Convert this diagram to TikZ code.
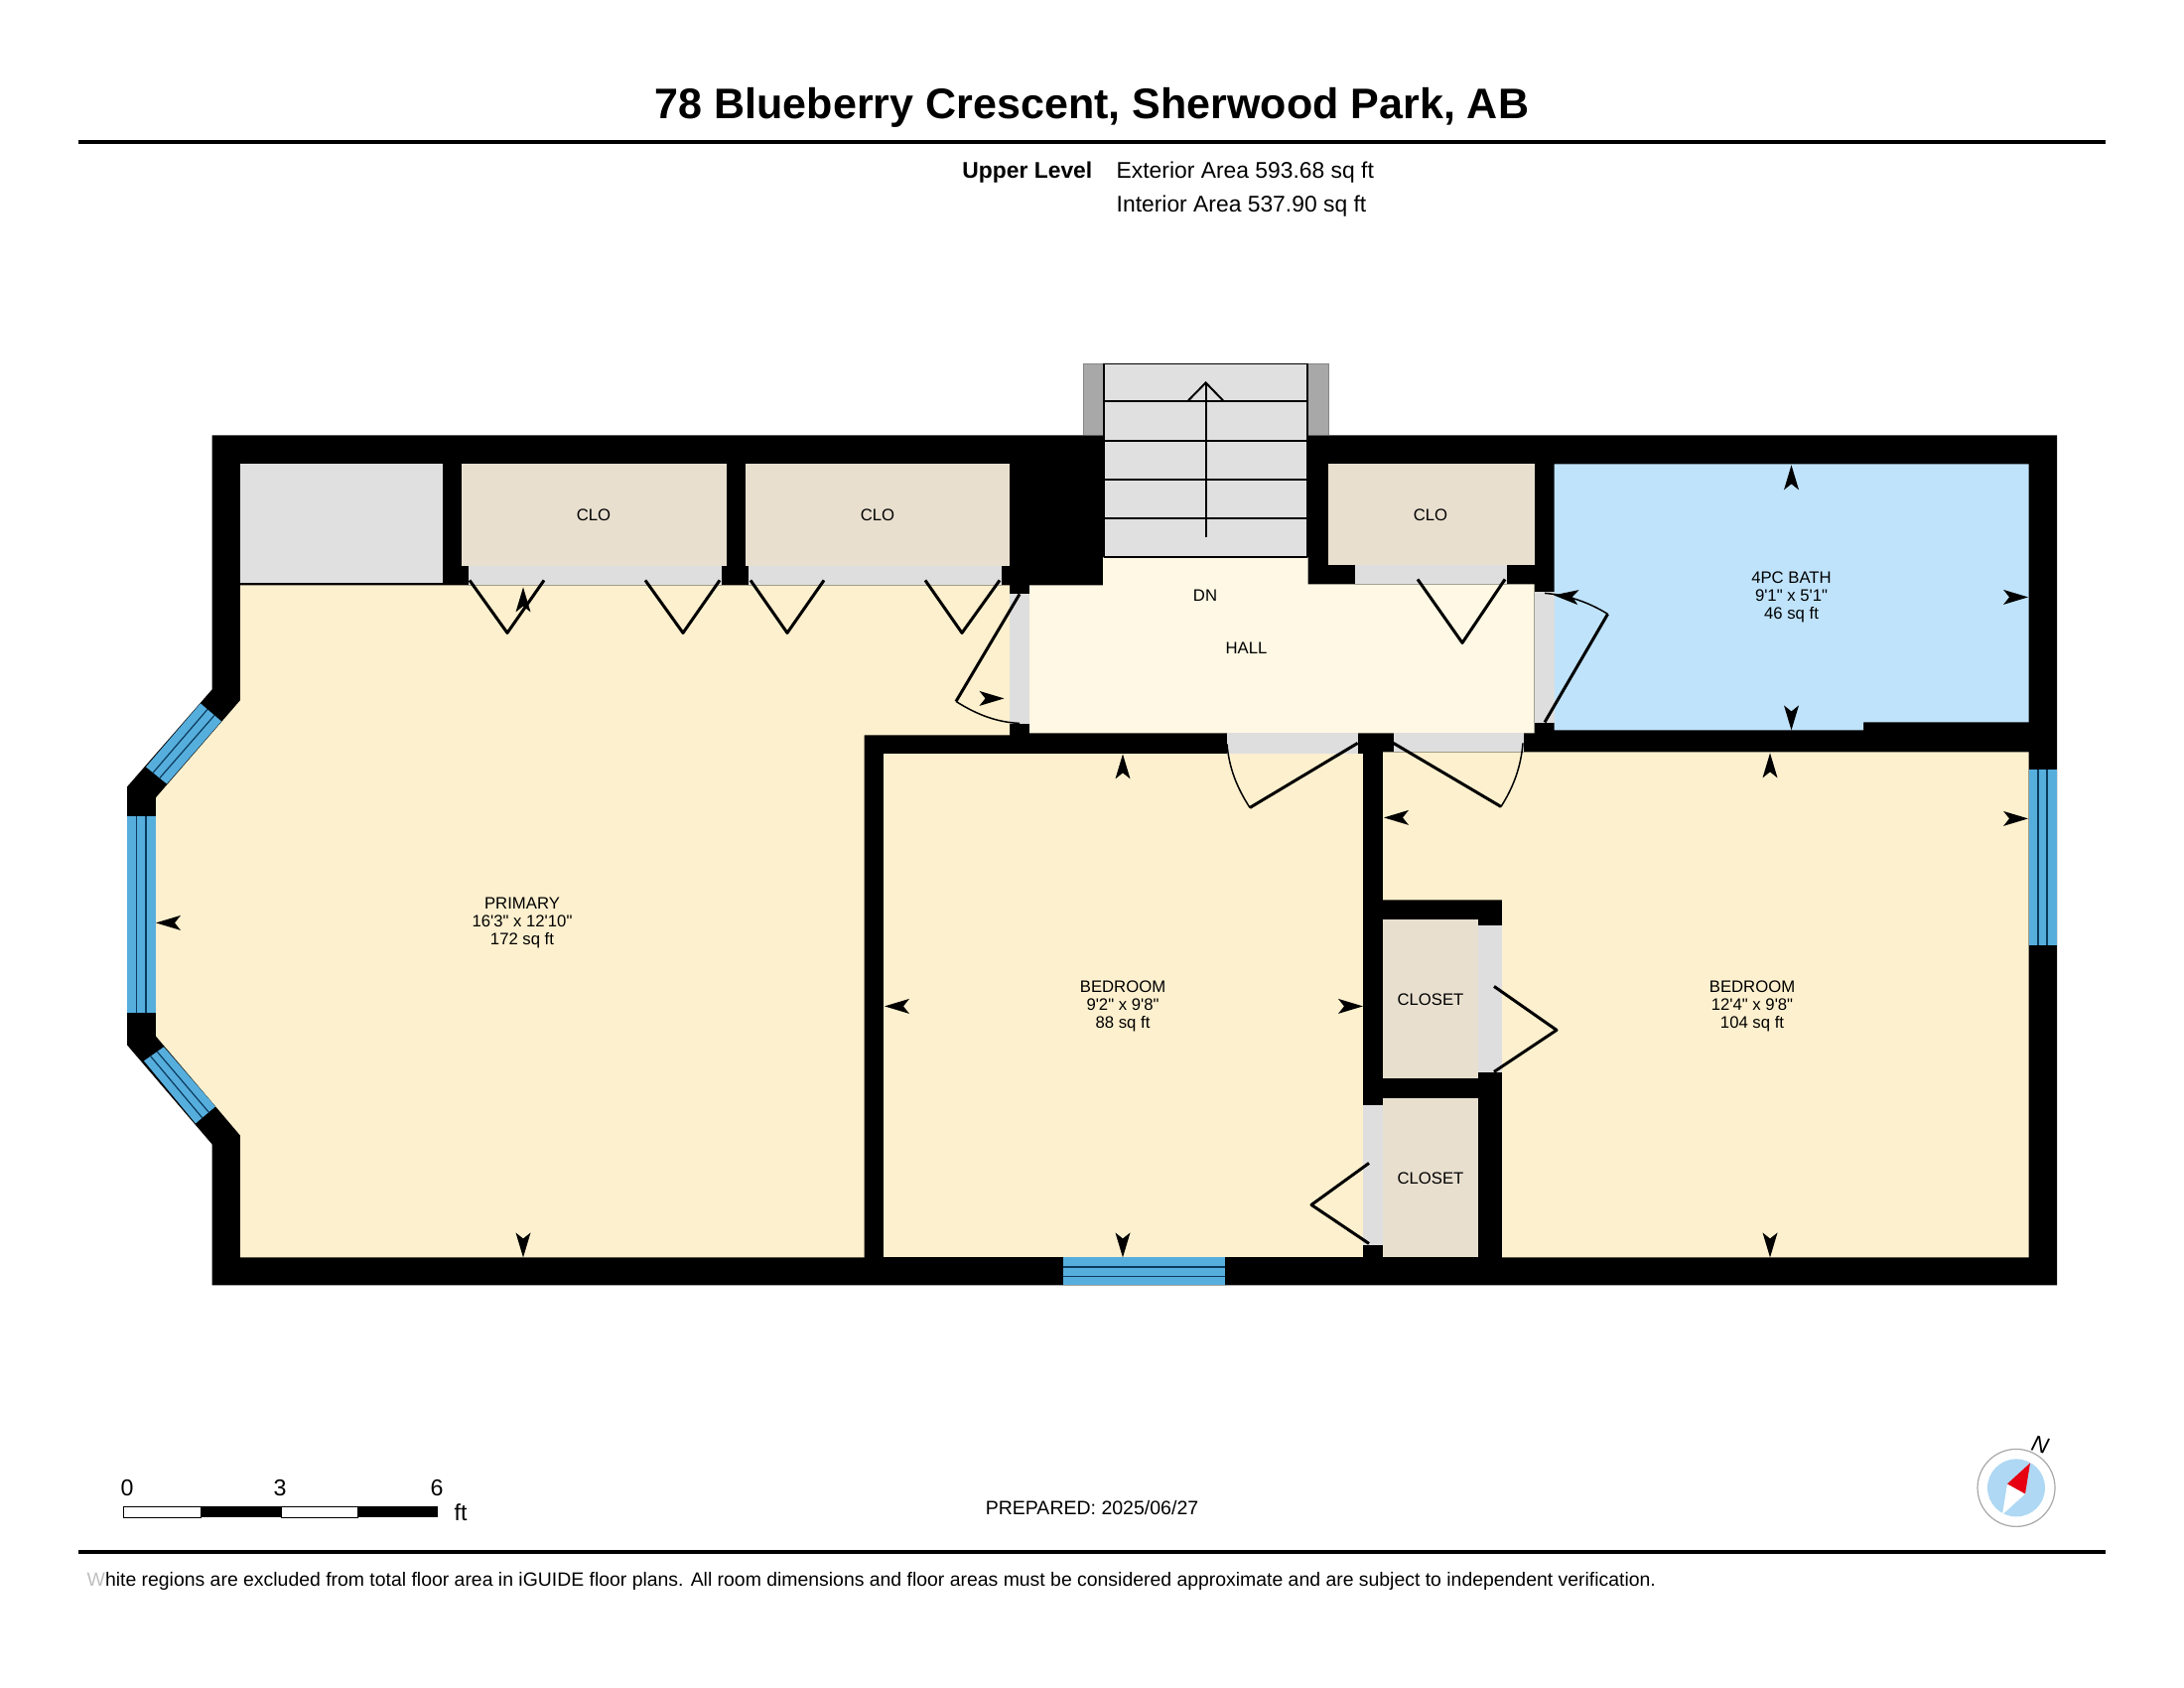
\documentclass[tikz,border=0pt]{standalone}
\usepackage{fontspec}
\setmainfont{Liberation Sans}[Ligatures=TeXOff]
\definecolor{roomcream}{HTML}{FDF0CE}
\definecolor{hallcream}{HTML}{FEF8E4}
\definecolor{closettan}{HTML}{E8DFCF}
\definecolor{bathblue}{HTML}{BFE3FB}
\definecolor{windowblue}{HTML}{56AEDD}
\definecolor{windowline}{HTML}{0B3A5C}
\definecolor{doorgray}{HTML}{DEDEDF}
\definecolor{storegray}{HTML}{E0E0E0}
\definecolor{sidegray}{HTML}{A8A8A8}
\definecolor{compassblue}{HTML}{AED8F4}
\definecolor{needlered}{HTML}{E60012}

\begin{document}
\begin{tikzpicture}[x=0.01cm,y=-0.01cm,
    room/.style={fill=roomcream},
    hall/.style={fill=hallcream},
    closet/.style={fill=closettan},
    bath/.style={fill=bathblue},
    doorway/.style={fill=doorgray},
    window/.style={fill=windowblue},
    windowbar/.style={draw=windowline,line width=0.012cm},
    leaf/.style={draw=black,line width=0.03cm,line join=round},
    swing/.style={draw=black,line width=0.015cm},
    tread/.style={draw=black,line width=0.02cm},
    roomtext/.style={align=center,inner sep=0pt,font=\fontsize{4.75}{5.12}\selectfont},
    infotext/.style={inner sep=0pt,font=\fontsize{6.5}{7}\selectfont},
    scaletext/.style={inner sep=0pt,font=\fontsize{6.6}{7}\selectfont},
    dimarrow/.pic={\fill[black] (0,0) -- (-25,-7.5) -- (-19,0) -- (-25,7.5) -- cycle;}]
    \useasboundingbox (0,-1.4) rectangle (2200,1698.6);
    % building outline
    \fill[black] (213.6,437) -- (2072,437) -- (2072,1293) -- (213.6,1293) -- (213.6,1151)
        -- (128,1051) -- (128,791) -- (213.6,693) -- cycle;
    % rooms
    \fill[room] (242,588) -- (1017,588) -- (1017,739) -- (870.5,739) -- (870.5,1265) -- (242,1265)
        -- (242,1142) -- (157,1042) -- (157,802) -- (242,704) -- cycle;
    \fill[room] (890,758) rectangle (1373,1265);
    \fill[room] (1393,756) -- (2043.5,756) -- (2043.5,1265) -- (1513,1265) -- (1513,905) -- (1393,905) -- cycle;
    \fill[hall] (1037,588) -- (1111,588) -- (1111,560) -- (1317.5,560) -- (1317.5,587) -- (1545.6,587)
        -- (1545.6,737) -- (1037,737) -- cycle;
    \fill[bath] (1565.5,466) -- (2043.5,466) -- (2043.5,726) -- (1877,726) -- (1877,734) -- (1565.5,734) -- cycle;
    \fill[storegray] (242,466) rectangle (446,586);
    \fill[closet] (465,466) rectangle (732,569);
    \fill[closet] (751,466) rectangle (1017,569);
    \fill[closet] (1338,466) rectangle (1545.6,568);
    \fill[closet] (1393,925) rectangle (1489,1085);
    \fill[closet] (1393,1105) rectangle (1489,1265);
    % door openings
    \fill[doorway] (472,569) rectangle (727,588);
    \fill[doorway] (754,569) rectangle (1009,588);
    \fill[doorway] (1017,597) rectangle (1037,728);
    \fill[doorway] (1364.6,568) rectangle (1518,587);
    \fill[doorway] (1545.6,595) rectangle (1565.5,727);
    \fill[doorway] (1236,737) rectangle (1367.6,758);
    \fill[doorway] (1403.6,737) rectangle (1535,756);
    \fill[doorway] (1489,931) rectangle (1513,1079);
    \fill[doorway] (1373,1112) rectangle (1393,1253);
    % stairs
    \fill[sidegray] (1091,365) rectangle (1112,437);
    \fill[sidegray] (1317,365) rectangle (1338,437);
    \fill[storegray] (1112,365) rectangle (1317,560);
    \draw[sidegray!80!black,line width=0.01cm] (1091,437) -- (1091,365) -- (1338,365) -- (1338,437);
    \draw[swing] (1112,365) -- (1317,365);
    \draw[tread] (1112,365) -- (1112,560);
    \draw[tread] (1317,365) -- (1317,560);
    \draw[tread] (1112,403) -- (1317,403);
    \draw[tread] (1112,443) -- (1317,443);
    \draw[tread] (1112,482) -- (1317,482);
    \draw[tread] (1112,521) -- (1317,521);
    \draw[tread] (1112,560) -- (1317,560);
    \draw[tread] (1214.6,540) -- (1214.6,384);
    \draw[tread] (1197,402) -- (1214.6,384) -- (1232,402);
    % windows
    \fill[window] (128,821) rectangle (157,1019);
    \draw[windowbar] (137.5,821) -- (137.5,1019);
    \draw[windowbar] (147,821) -- (147,1019);
    \fill[window] (147,771) -- (202,707) -- (223,725) -- (168,788) -- cycle;
    \draw[windowbar] (154,777) -- (209,713);
    \draw[windowbar] (161,782) -- (216,719);
    \fill[window] (165,1053) -- (217,1113) -- (197,1130) -- (145,1067) -- cycle;
    \draw[windowbar] (158.3,1057.7) -- (210.3,1118.7);
    \draw[windowbar] (151.7,1062.3) -- (203.7,1124.3);
    \fill[window] (1071,1265) rectangle (1234,1293);
    \draw[windowbar] (1071,1274.5) -- (1234,1274.5);
    \draw[windowbar] (1071,1284) -- (1234,1284);
    \fill[window] (2043.5,774) rectangle (2072,951);
    \draw[windowbar] (2053,774) -- (2053,951);
    \draw[windowbar] (2062,774) -- (2062,951);
    % doors
    \draw[leaf] (473,583) -- (511,636) -- (548,583);
    \draw[leaf] (650,583) -- (688,636) -- (725,583);
    \draw[leaf] (756,583) -- (793,636) -- (830,583);
    \draw[leaf] (932,583) -- (969,636) -- (1007,583);
    \draw[leaf] (1428,582) -- (1473,646) -- (1516,582);
    \draw[leaf] (1505,992) -- (1568,1036) -- (1505,1078);
    \draw[leaf] (1379,1170) -- (1321,1212) -- (1379,1251);
    \draw[leaf] (1027,597) -- (963,705);
    \draw[swing] (963,705) .. controls (985,719) and (1005,726) .. (1027,727);
    \draw[leaf] (1367.6,747) -- (1259,812);
    \draw[swing] (1259,812) .. controls (1246,792) and (1238,772) .. (1236,748);
    \draw[leaf] (1403.6,747) -- (1512,811);
    \draw[swing] (1512,811) .. controls (1524,792) and (1532,772) .. (1534,747);
    \draw[leaf] (1556,726) -- (1619.5,617);
    \draw[swing] (1619.5,617) .. controls (1600,605) and (1580,598) .. (1556,596);
    % dimension arrows
    \pic[rotate=90] at (527,590) {dimarrow};
    \pic[rotate=180] at (157,928) {dimarrow};
    \pic[rotate=-90] at (527,1265) {dimarrow};
    \pic at (1011.5,702) {dimarrow};
    \pic[rotate=90] at (1131,758) {dimarrow};
    \pic[rotate=180] at (891,1012) {dimarrow};
    \pic at (1373,1012) {dimarrow};
    \pic[rotate=-90] at (1131,1265) {dimarrow};
    \pic[rotate=180] at (1394,822) {dimarrow};
    \pic[rotate=90] at (1783,757) {dimarrow};
    \pic at (2043,823) {dimarrow};
    \pic[rotate=-90] at (1783,1265) {dimarrow};
    \pic[rotate=90] at (1804.5,467) {dimarrow};
    \pic at (2043,600) {dimarrow};
    \pic[rotate=-90] at (1804.5,734) {dimarrow};
    \pic[rotate=175] at (1565,598) {dimarrow};
    % room labels
    \node[roomtext] (primary) at (526,928) {PRIMARY\\16'3" x 12'10"\\172 sq ft};
    \node[roomtext] (bedroomA) at (1131,1012) {BEDROOM\\9'2" x 9'8"\\88 sq ft};
    \node[roomtext] (bedroomB) at (1765,1012) {BEDROOM\\12'4" x 9'8"\\104 sq ft};
    \node[roomtext] (bath) at (1804.5,600) {4PC BATH\\9'1" x 5'1"\\46 sq ft};
    \node[roomtext] (hall) at (1255.5,651) {HALL};
    \node[roomtext] (down) at (1214,598) {DN};
    \node[roomtext] (cloA) at (598,517) {CLO};
    \node[roomtext] (cloB) at (884,517) {CLO};
    \node[roomtext] (cloC) at (1441,517) {CLO};
    \node[roomtext] (closetA) at (1441,1005) {CLOSET};
    \node[roomtext] (closetB) at (1441,1185) {CLOSET};
    % header
    \node[inner sep=0pt,font=\fontsize{12.24}{14}\selectfont\bfseries] (title) at (1100,106.6) {78 Blueberry Crescent, Sherwood Park, AB};
    \draw[line width=0.04cm] (79,141.5) -- (2121,141.5);
    \node[infotext,anchor=east,font=\fontsize{6.5}{7}\selectfont\bfseries] (level) at (1101,172) {Upper Level};
    \node[infotext,anchor=west] (exterior) at (1124,172) {Exterior Area 593.68 sq ft};
    \node[infotext,anchor=west] (interior) at (1124,206) {Interior Area 537.90 sq ft};
    % scale bar
    \draw[black,line width=0.01cm,fill=white] (124,1516) rectangle (202,1527);
    \fill[black] (202,1516) rectangle (283,1527);
    \draw[black,line width=0.01cm,fill=white] (283,1516) rectangle (360,1527);
    \fill[black] (360,1516) rectangle (441,1527);
    \node[scaletext] (zero) at (128,1497) {0};
    \node[scaletext] (three) at (282,1497) {3};
    \node[scaletext] (six) at (440,1497) {6};
    \node[scaletext] (feet) at (464,1522) {ft};
    \node[infotext,font=\fontsize{5.55}{7}\selectfont] (prepared) at (1100,1517) {PREPARED: 2025/06/27};
    % compass
    \draw[sidegray,line width=0.012cm,fill=white] (2031,1497) circle [radius=39];
    \fill[compassblue] (2031,1497) circle [radius=29];
    \fill[white] (2022,1493) -- (2040,1503) -- (2017,1524) -- cycle;
    \fill[needlered] (2045,1472) -- (2022,1493) -- (2040,1503) -- cycle;
    \node[inner sep=0pt,rotate=-15,font=\fontsize{6.5}{7}\selectfont\itshape] (north) at (2055,1454) {N};
    % footer
    \draw[line width=0.04cm] (79,1561.5) -- (2121,1561.5);
    \node[infotext,anchor=west,font=\fontsize{5.52}{7}\selectfont] (note) at (87,1591.5) {{\color{gray!50}W}hite regions are excluded from total floor area in iGUIDE floor plans. All room dimensions and floor areas must be considered approximate and are subject to independent verification.};
\end{tikzpicture}
\end{document}
